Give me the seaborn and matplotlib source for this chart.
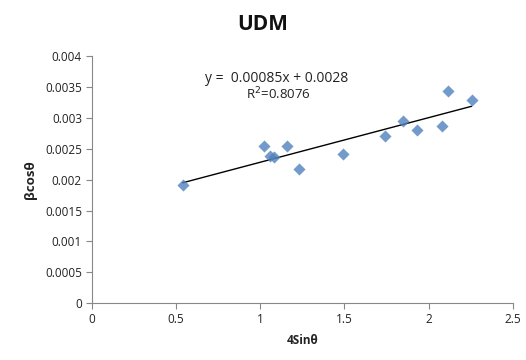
import matplotlib
matplotlib.use("Agg")
import matplotlib.pyplot as plt
import seaborn as sns
import pandas as pd

x_vals = [0.54, 1.02, 1.06, 1.08, 1.16, 1.23, 1.49, 1.74, 1.85, 1.93, 2.08, 2.115, 2.255]
y_vals = [0.00192, 0.00255, 0.00238, 0.00236, 0.00255, 0.00217, 0.00242, 0.00270, 0.00295, 0.00280, 0.00287, 0.00343, 0.00329]
x_ticks = [0, 0.5, 1, 1.5, 2, 2.5]
x_tick_labels = ["0", "0.5", "1", "1.5", "2", "2.5"]
y_ticks = [0, 0.0005, 0.001, 0.0015, 0.002, 0.0025, 0.003, 0.0035, 0.004]
y_tick_labels = ["0", "0.0005", "0.001", "0.0015", "0.002", "0.0025", "0.003", "0.0035", "0.004"]

df = pd.DataFrame({"x": x_vals, "y": y_vals})

sns.set_theme(style="white")
plt.rcParams['font.family'] = ['Open Sans', 'DejaVu Sans']

fig = plt.figure(figsize=(5.26, 3.6), dpi=100)
ax = fig.add_axes([0.1743, 0.158, 0.8007, 0.686])

sns.regplot(data=df, x="x", y="y", ax=ax, ci=None, marker="D",
            scatter_kws=dict(s=38, color="#4F81BD", linewidths=0, zorder=3),
            line_kws=dict(color="black", lw=1.0, zorder=2))

ax.set_xlim(0, 2.5)
ax.set_ylim(0, 0.004)
ax.set_xticks(x_ticks)
ax.set_xticklabels(x_tick_labels, fontsize=8.5, color="#222222")
ax.set_yticks(y_ticks)
ax.set_yticklabels(y_tick_labels, fontsize=8.5, color="#222222")
ax.tick_params(axis="both", direction="out", length=4, width=0.8, color="#888888", left=True, bottom=True, pad=3)

for s in ["top", "right"]:
    ax.spines[s].set_visible(False)
for s in ["left", "bottom"]:
    ax.spines[s].set_color("#888888")
    ax.spines[s].set_linewidth(0.8)

ax.set_xlabel("4Sinθ", fontsize=8.5, fontweight="bold", color="#222222", labelpad=6)
ax.set_ylabel("βcosθ", fontsize=9.5, fontweight="bold", color="#222222", labelpad=6)
fig.suptitle("UDM", x=0.5, y=0.96, fontsize=15, fontweight="bold", color="#111111")

fig.text(0.525, 0.782, "y =  0.00085x + 0.0028", ha="center", va="center", fontsize=10, color="#222222")
fig.text(0.53, 0.74, "R$^2$=0.8076", ha="center", va="center", fontsize=9.5, color="#222222")

fig.savefig("out.png", dpi=100, facecolor="white")
